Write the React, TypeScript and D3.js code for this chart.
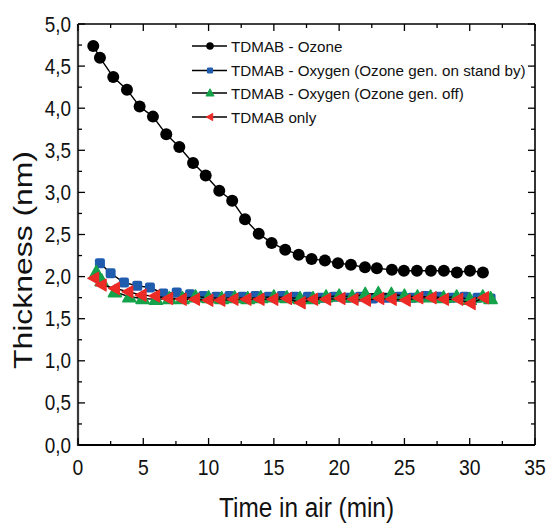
import React from "react";
import * as d3 from "d3";

// Time in air (min) and film thickness (nm) for each treatment
const ozoneTime = [1.17, 1.68, 2.7, 3.75, 4.72, 5.74, 6.76, 7.76, 8.81, 9.78, 10.82, 11.81, 12.79, 13.84, 14.83, 15.87, 16.9, 17.89, 18.91, 19.91, 20.9, 21.98, 22.89, 24.04, 24.96, 25.96, 27.03, 28.02, 29.02, 30.02, 31.01];
const ozoneThickness = [4.74, 4.6, 4.37, 4.22, 4.02, 3.9, 3.69, 3.54, 3.35, 3.2, 3.02, 2.9, 2.68, 2.51, 2.4, 2.32, 2.26, 2.21, 2.19, 2.16, 2.14, 2.11, 2.1, 2.08, 2.07, 2.07, 2.07, 2.07, 2.05, 2.07, 2.05];

const standbyTime = [1.68, 2.5, 3.52, 4.54, 5.51, 6.53, 7.56, 8.58, 9.6, 10.6, 11.6, 12.6, 13.6, 14.6, 15.6, 16.6, 17.6, 18.6, 19.6, 20.6, 21.6, 22.6, 23.6, 24.6, 25.6, 26.6, 27.6, 28.6, 29.6, 30.6, 31.6];
const standbyThickness = [2.16, 2.04, 1.93, 1.89, 1.87, 1.8, 1.81, 1.79, 1.77, 1.76, 1.77, 1.76, 1.77, 1.76, 1.77, 1.76, 1.76, 1.75, 1.76, 1.75, 1.76, 1.74, 1.75, 1.76, 1.75, 1.77, 1.76, 1.75, 1.76, 1.75, 1.74];

const offTime = [1.4, 1.81, 2.83, 3.93, 4.95, 5.97, 7.0, 8.0, 9.0, 10.0, 11.0, 12.0, 13.0, 14.0, 15.0, 16.0, 17.0, 18.0, 19.0, 20.0, 21.0, 22.0, 23.0, 24.0, 25.0, 26.0, 27.0, 28.0, 29.0, 30.0, 31.0, 31.6];
const offThickness = [2.05, 1.95, 1.82, 1.76, 1.74, 1.73, 1.74, 1.74, 1.76, 1.75, 1.74, 1.75, 1.74, 1.75, 1.76, 1.75, 1.74, 1.74, 1.76, 1.77, 1.76, 1.79, 1.8, 1.79, 1.77, 1.76, 1.76, 1.75, 1.76, 1.73, 1.76, 1.74];

const onlyTime = [1.23, 1.81, 2.83, 3.85, 4.87, 5.9, 6.9, 7.94, 8.96, 9.98, 10.9, 11.9, 12.9, 13.9, 14.95, 16.0, 17.05, 18.0, 19.0, 20.1, 21.1, 22.05, 23.07, 24.02, 25.1, 26.06, 27.08, 28.02, 29.12, 30.07, 31.09];
const onlyThickness = [1.98, 1.9, 1.86, 1.82, 1.78, 1.77, 1.74, 1.73, 1.73, 1.72, 1.72, 1.73, 1.73, 1.73, 1.73, 1.74, 1.69, 1.73, 1.73, 1.74, 1.73, 1.72, 1.74, 1.73, 1.72, 1.75, 1.75, 1.73, 1.73, 1.68, 1.75];

const seriesNames = [
  "TDMAB - Ozone",
  "TDMAB - Oxygen (Ozone gen. on stand by)",
  "TDMAB - Oxygen (Ozone gen. off)",
  "TDMAB only",
];

const xMajorTicks = [0, 5, 10, 15, 20, 25, 30, 35];
const yMajorTicks = [0, 0.5, 1, 1.5, 2, 2.5, 3, 3.5, 4, 4.5, 5];

const W = 546;
const H = 525;
const M = { left: 78, right: 535, top: 24, bottom: 445 };
const FONT = "'Liberation Sans', Arial, Helvetica, sans-serif";

type Shape = "circle" | "square" | "up" | "left";

function Marker({ shape, x, y, color }: { shape: Shape; x: number; y: number; color: string }) {
  if (shape === "circle") return <circle cx={x} cy={y} r={6} fill={color} />;
  if (shape === "square")
    return <rect x={x - 5} y={y - 5} width={10} height={10} rx={2.2} fill={color} />;
  if (shape === "up") {
    const s = 6.6;
    return (
      <path
        d={`M${x},${y - s * 1.05}L${x + s},${y + s * 0.75}L${x - s},${y + s * 0.75}Z`}
        fill={color}
        stroke={color}
        strokeWidth={1.4}
        strokeLinejoin="round"
      />
    );
  }
  const s = 6;
  return (
    <path
      d={`M${x - s * 1.05},${y}L${x + s * 0.75},${y - s}L${x + s * 0.75},${y + s}Z`}
      fill={color}
      stroke={color}
      strokeWidth={1.2}
      strokeLinejoin="round"
    />
  );
}

export default function App() {
  const x = d3.scaleLinear().domain([0, 35]).range([M.left, M.right]);
  const y = d3.scaleLinear().domain([0, 5]).range([M.bottom, M.top]);

  const series = [
    { name: seriesNames[0], xs: ozoneTime, ys: ozoneThickness, color: "#000000", shape: "circle" as Shape },
    { name: seriesNames[1], xs: standbyTime, ys: standbyThickness, color: "#1f5cae", shape: "square" as Shape },
    { name: seriesNames[2], xs: offTime, ys: offThickness, color: "#14a24a", shape: "up" as Shape },
    { name: seriesNames[3], xs: onlyTime, ys: onlyThickness, color: "#ec2a26", shape: "left" as Shape },
  ];

  const line = d3
    .line<[number, number]>()
    .x((d) => x(d[0]))
    .y((d) => y(d[1]));

  const xMinor = d3.range(0, 35.01, 2.5).filter((v) => !xMajorTicks.includes(v));
  const yMinor = d3.range(0, 5.01, 0.25).filter((v) => !yMajorTicks.some((t) => Math.abs(t - v) < 1e-6));
  const fmt = (v: number) => v.toFixed(1).replace(".", ",");

  const legendX0 = 192;
  const legendX1 = 227;
  const legendYs = [46, 70.5, 93, 117];

  return (
    <svg width={W} height={H} style={{ position: "absolute", left: 0, top: 0, background: "#fff" }}>
      {/* frame */}
      <line x1={M.left} x2={M.right} y1={M.top} y2={M.top} stroke="#000" strokeWidth={1.6} />
      <line x1={M.right} x2={M.right} y1={M.top} y2={M.bottom} stroke="#000" strokeWidth={1.6} />
      <line x1={M.left} x2={M.right} y1={M.bottom} y2={M.bottom} stroke="#000" strokeWidth={2} />
      <line x1={M.left} x2={M.left} y1={M.top} y2={M.bottom + 1} stroke="#3a3a3a" strokeWidth={2.2} />

      {/* bottom/top ticks, pointing inward */}
      {xMajorTicks.map((t) => (
        <g key={"xt" + t}>
          <line x1={x(t)} x2={x(t)} y1={M.bottom} y2={M.bottom - 7} stroke="#000" strokeWidth={1.3} />
          <line x1={x(t)} x2={x(t)} y1={M.top} y2={M.top + 7} stroke="#000" strokeWidth={1.3} />
        </g>
      ))}
      {xMinor.map((t) => (
        <g key={"xm" + t}>
          <line x1={x(t)} x2={x(t)} y1={M.bottom} y2={M.bottom - 4} stroke="#000" strokeWidth={1.3} />
          <line x1={x(t)} x2={x(t)} y1={M.top} y2={M.top + 4} stroke="#000" strokeWidth={1.3} />
        </g>
      ))}
      {/* left/right ticks, pointing inward */}
      {yMajorTicks.map((t) => (
        <g key={"yt" + t}>
          <line x1={M.left} x2={M.left + 7} y1={y(t)} y2={y(t)} stroke="#000" strokeWidth={1.3} />
          <line x1={M.right} x2={M.right - 7} y1={y(t)} y2={y(t)} stroke="#000" strokeWidth={1.3} />
        </g>
      ))}
      {yMinor.map((t) => (
        <g key={"ym" + t}>
          <line x1={M.left} x2={M.left + 4} y1={y(t)} y2={y(t)} stroke="#000" strokeWidth={1.3} />
          <line x1={M.right} x2={M.right - 4} y1={y(t)} y2={y(t)} stroke="#000" strokeWidth={1.3} />
        </g>
      ))}

      {/* tick labels, in a slightly condensed face */}
      {xMajorTicks.map((t) => (
        <text
          key={"xl" + t}
          transform={`translate(${x(t)},475) scale(0.88,1)`}
          textAnchor="middle"
          fontFamily={FONT}
          fontSize={22}
          fill="#111"
        >
          {t}
        </text>
      ))}
      {yMajorTicks.map((t) => (
        <text
          key={"yl" + t}
          transform={`translate(71,${y(t) + 7.5}) scale(0.88,1)`}
          textAnchor="end"
          fontFamily={FONT}
          fontSize={21.5}
          fill="#111"
        >
          {fmt(t)}
        </text>
      ))}

      {/* axis titles */}
      <text
        x={(M.left + M.right) / 2}
        y={517}
        textAnchor="middle"
        fontFamily={FONT}
        fontSize={27}
        textLength={175}
        lengthAdjust="spacingAndGlyphs"
        fill="#111"
      >
        Time in air (min)
      </text>
      <text
        transform={`translate(32,${(150 + 370) / 2}) rotate(-90)`}
        textAnchor="middle"
        fontFamily={FONT}
        fontSize={25}
        textLength={218}
        lengthAdjust="spacingAndGlyphs"
        fill="#111"
      >
        Thickness (nm)
      </text>

      {/* series */}
      {series.map((s) => {
        const pts: [number, number][] = s.xs.map((v, i) => [v, s.ys[i]]);
        return (
          <g key={s.name}>
            <path d={line(pts) ?? ""} fill="none" stroke="#000" strokeWidth={1.4} />
            {pts.map((p, i) => (
              <Marker key={i} shape={s.shape} x={x(p[0])} y={y(p[1])} color={s.color} />
            ))}
          </g>
        );
      })}

      {/* legend */}
      {series.map((s, i) => (
        <g key={"lg" + s.name}>
          <line x1={legendX0} x2={legendX1} y1={legendYs[i]} y2={legendYs[i]} stroke="#000" strokeWidth={1.6} />
          <g transform={`translate(${(legendX0 + legendX1) / 2 + 0.5},${legendYs[i]}) scale(0.62)`}>
            <Marker shape={s.shape} x={0} y={0} color={s.color} />
          </g>
          <text x={231} y={legendYs[i] + 5.5} fontFamily={FONT} fontSize={15.2} fill="#111">
            {s.name}
          </text>
        </g>
      ))}
    </svg>
  );
}
